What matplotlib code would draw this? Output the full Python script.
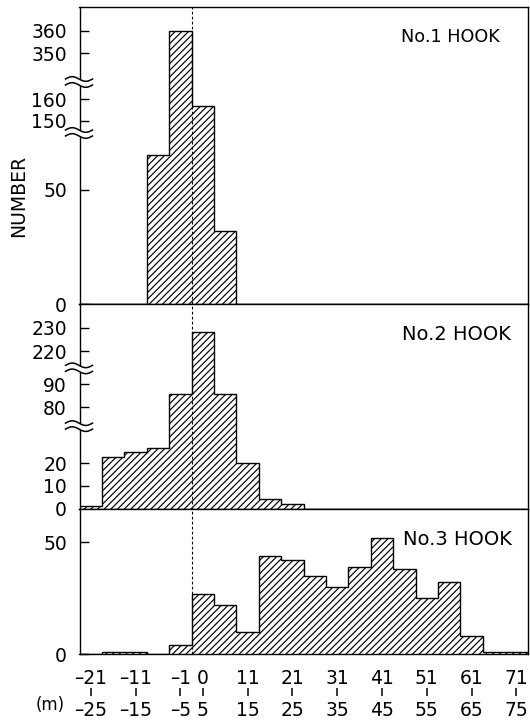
import numpy as np
import matplotlib
matplotlib.use("Agg")
import matplotlib.pyplot as plt
from matplotlib.transforms import blended_transform_factory

# ---------------- data ----------------
bin_edges = list(range(-25, 80, 5))          # 20 bins of 5 m, -25 ... 75
hook1 = [0, 0, 0, 65, 360, 157, 32, 0, 0, 0, 0, 0, 0, 0, 0, 0, 0, 0, 0, 0]
hook2 = [1, 23, 25, 27, 86, 228, 86, 20, 4, 2, 0, 0, 0, 0, 0, 0, 0, 0, 0, 0]
hook3 = [0, 1, 1, 0, 4, 27, 22, 10, 44, 42, 35, 30, 39, 52, 38, 25, 32, 8, 1, 1]

top_labels = ["-21", "-11", "-1", "0", "11", "21", "31", "41", "51", "61", "71"]
bottom_labels = ["-25", "-15", "-5", "5", "15", "25", "35", "45", "55", "65", "75"]
label_bins = [0, 2, 4, 5, 7, 9, 11, 13, 15, 17, 19]

p1_ticks = [0, 50, 150, 160, 350, 360]
p2_ticks = [0, 10, 20, 80, 90, 220, 230]
p3_ticks = [0, 50]

# broken-axis segments: data breakpoints and their axes fractions
p1_data = [0, 74.8, 144.25, 168.1, 337.3, 370.5]
p1_frac = [0, 0.5758, 0.5759, 0.7475, 0.7476, 1.0]
p2_data = [0, 36.6, 71.9, 96.96, 212.6, 240.2]
p2_frac = [0, 0.4028, 0.4029, 0.6853, 0.6854, 1.0]
p3_ylim = (0, 65.1)

titles = ["No.1 HOOK", "No.2 HOOK", "No.3 HOOK"]

# ---------------- figure ----------------
plt.rcParams["font.family"] = ["DejaVu Sans"]
plt.rcParams["hatch.linewidth"] = 0.85
W, H = 530, 722
fig = plt.figure(figsize=(W / 100, H / 100), dpi=100)
L, R = 79.5, 527.5


def add_ax(top, bottom):
    return fig.add_axes([L / W, (H - bottom) / H, (R - L) / W, (bottom - top) / H])


ax1 = add_ax(7, 304)
ax2 = add_ax(304, 508.5)
ax3 = add_ax(508.5, 654)
axes = [ax1, ax2, ax3]
edges = np.array(bin_edges, dtype=float)


def piecewise(dpts, fpts):
    dp = np.asarray(dpts, float)
    fp = np.asarray(fpts, float)
    return (lambda v: np.interp(v, dp, fp)), (lambda v: np.interp(v, fp, dp))


for ax, vals in zip(axes, [hook1, hook2, hook3]):
    ax.stairs(vals, edges, baseline=0, fill=True, facecolor="white",
              edgecolor="black", hatch="/////", linewidth=1.0, zorder=2)
    ax.axvline(0, color="black", lw=0.8, ls=(0, (2.5, 2)), zorder=3)
    ax.set_xlim(edges[0], edges[-1])
    ax.set_xticks([])
    for s in ax.spines.values():
        s.set_linewidth(1.0)
    ax.tick_params(axis="y", direction="in", length=6.5, width=1.0,
                   labelsize=13.5, pad=9)

ax1.set_yscale("function", functions=piecewise(p1_data, p1_frac))
ax1.set_ylim(p1_data[0], p1_data[-1])
ax1.set_yticks(p1_ticks, [str(t) for t in p1_ticks])
ax1.yaxis.set_minor_locator(matplotlib.ticker.NullLocator())

ax2.set_yscale("function", functions=piecewise(p2_data, p2_frac))
ax2.set_ylim(p2_data[0], p2_data[-1])
ax2.set_yticks(p2_ticks, [str(t) for t in p2_ticks])
ax2.yaxis.set_minor_locator(matplotlib.ticker.NullLocator())

ax3.set_ylim(*p3_ylim)
ax3.set_yticks(p3_ticks, [str(t) for t in p3_ticks])


# break marks on the y axis
def draw_break(ax, f):
    pos = ax.get_position()
    wpx = pos.width * W
    hpx = pos.height * H
    xs = np.linspace(-14, 13, 80)
    wave = 2.3 * np.sin((xs + 14) / 27 * 2 * np.pi)
    xa = xs / wpx
    up = f + (wave + 3.0) / hpx
    lo = f + (wave - 3.0) / hpx
    ax.fill_between(xa, lo, up, transform=ax.transAxes, color="white",
                    clip_on=False, zorder=5, lw=0)
    ax.plot(xa, up, transform=ax.transAxes, color="black", lw=1.1,
            clip_on=False, zorder=6)
    ax.plot(xa, lo, transform=ax.transAxes, color="black", lw=1.1,
            clip_on=False, zorder=6)


for f in (p1_frac[1], p1_frac[3]):
    draw_break(ax1, f)
for f in (p2_frac[1], p2_frac[3]):
    draw_break(ax2, f)

# panel titles
fig.text(401 / W, (H - 42) / H, titles[0], fontsize=12.7, ha="left", va="baseline")
fig.text(402 / W, (H - 340.5) / H, titles[1], fontsize=14, ha="left", va="baseline")
fig.text(403 / W, (H - 545) / H, titles[2], fontsize=14, ha="left", va="baseline")

# y label
fig.text(18.3 / W, (H - 196) / H, "NUMBER", rotation=90, ha="center",
         va="center", fontsize=13.5)

# x labels (two-row class labels joined by a short vertical stroke)
centers = (edges[:-1] + edges[1:]) / 2
bt = blended_transform_factory(ax3.transData, fig.transFigure)
label_x = centers[label_bins]
for x, t, b in zip(label_x, top_labels, bottom_labels):
    ax3.text(x, (H - 684) / H, t.replace("-", "\u2013"), transform=bt,
             ha="center", va="baseline", fontsize=13.5, clip_on=False)
    ax3.text(x, (H - 716.5) / H, b.replace("-", "\u2013"), transform=bt,
             ha="center", va="baseline", fontsize=13.5, clip_on=False)
ax3.plot(label_x, np.full(len(label_x), (H - 692) / H), transform=bt,
         ls="none", marker="|", ms=6, mew=1.1, color="black", clip_on=False)

fig.text(50 / W, (H - 705) / H, "(m)", ha="center", va="center", fontsize=12)

fig.savefig("out.png", dpi=100, facecolor="white")
